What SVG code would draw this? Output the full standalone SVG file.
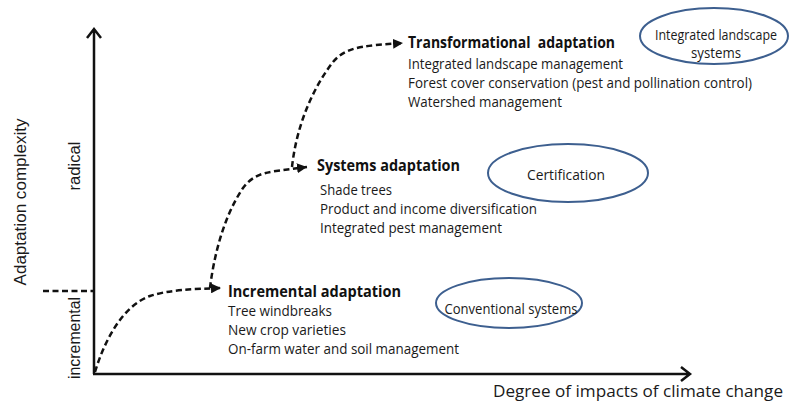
<svg xmlns="http://www.w3.org/2000/svg" width="790" height="402" viewBox="0 0 790 402">
<style>
  .t { font-family: "Open Sans", "Noto Sans", "Liberation Sans", sans-serif; font-size: 14.5px; fill: #1a1a1a; }
  .b { font-family: "Open Sans", "Noto Sans", "Liberation Sans", sans-serif; font-size: 15.5px; font-weight: bold; fill: #111; }
  .ax { font-family: "Liberation Sans", Arial, sans-serif; font-size: 16px; fill: #1a1a1a; }
  .xl { font-family: "Open Sans", "Noto Sans", "Liberation Sans", sans-serif; font-size: 16px; fill: #1a1a1a; }
  .axis { stroke: #111; stroke-width: 2.5; fill: none; }
  .dash { stroke: #111; stroke-width: 2.5; fill: none; stroke-dasharray: 6 3.5; }
  .ell { fill: #fff; stroke: #3d5f8f; stroke-width: 2; }
</style>
<defs>
  <marker id="tri" viewBox="0 0 10 10" refX="10" refY="5" markerWidth="4" markerHeight="4" orient="auto" markerUnits="strokeWidth">
    <path d="M0,0 L10,5 L0,10 Z" fill="#111"/>
  </marker>
</defs>
<rect width="790" height="402" fill="#fff"/>

<g id="axes">
  <path class="axis" d="M94,374 V29 M87,38 L94,29 L101,38"/>
  <path class="axis" d="M93,374 H690 M681,367 L690,374 L681,381"/>
  <path class="dash" d="M43,291 H94"/>
  <text class="ax" transform="translate(26,202) rotate(-90)" text-anchor="middle" textLength="167" lengthAdjust="spacingAndGlyphs">Adaptation complexity</text>
  <text class="ax" transform="translate(80,166) rotate(-90)" text-anchor="middle" textLength="49" lengthAdjust="spacingAndGlyphs">radical</text>
  <text class="ax" transform="translate(80,338) rotate(-90)" text-anchor="middle" textLength="82" lengthAdjust="spacingAndGlyphs">incremental</text>
  <text class="xl" x="493" y="397" textLength="290" lengthAdjust="spacingAndGlyphs">Degree of impacts of climate change</text>
</g>

<g id="connectors">
  <path class="dash" marker-end="url(#tri)" d="M95,372 C104,342 122,306 150,296 C168,290 192,289 221,288"/>
  <path class="dash" marker-end="url(#tri)" d="M210,288 C214,255 224,216 243,188 C252,176 262,173 276,171 L307,167"/>
  <path class="dash" marker-end="url(#tri)" d="M292,167 C296,130 310,92 333,62 C343,50 356,47 376,45 L403,43"/>
</g>

<g id="incremental">
  <text class="b" x="228" y="297" textLength="173" lengthAdjust="spacingAndGlyphs">Incremental adaptation</text>
  <text class="t" x="228" y="316" textLength="104" lengthAdjust="spacingAndGlyphs">Tree windbreaks</text>
  <text class="t" x="228" y="335" textLength="118" lengthAdjust="spacingAndGlyphs">New crop varieties</text>
  <text class="t" x="228" y="354" textLength="231" lengthAdjust="spacingAndGlyphs">On-farm water and soil management</text>
</g>

<g id="systems">
  <text class="b" x="317" y="171" textLength="143" lengthAdjust="spacingAndGlyphs">Systems adaptation</text>
  <text class="t" x="320" y="195" textLength="72" lengthAdjust="spacingAndGlyphs">Shade trees</text>
  <text class="t" x="320" y="214" textLength="217" lengthAdjust="spacingAndGlyphs">Product and income diversification</text>
  <text class="t" x="320" y="233" textLength="182" lengthAdjust="spacingAndGlyphs">Integrated pest management</text>
</g>

<g id="transformational">
  <text class="b" x="408" y="48" textLength="207" lengthAdjust="spacingAndGlyphs" style="white-space:pre">Transformational  adaptation</text>
  <text class="t" x="408" y="69" textLength="215" lengthAdjust="spacingAndGlyphs">Integrated landscape management</text>
  <text class="t" x="408" y="88" textLength="344" lengthAdjust="spacingAndGlyphs">Forest cover conservation (pest and pollination control)</text>
  <text class="t" x="408" y="107" textLength="154" lengthAdjust="spacingAndGlyphs">Watershed management</text>
</g>

<g id="conventional-systems">
  <ellipse class="ell" cx="509" cy="303" rx="73" ry="25"/>
  <text class="t" x="511" y="314" text-anchor="middle" textLength="133" lengthAdjust="spacingAndGlyphs">Conventional systems</text>
</g>

<g id="certification">
  <ellipse class="ell" cx="568" cy="173" rx="80" ry="29"/>
  <text class="t" x="566" y="180" text-anchor="middle" textLength="78" lengthAdjust="spacingAndGlyphs">Certification</text>
</g>

<g id="integrated-landscape-systems">
  <ellipse class="ell" cx="714" cy="36" rx="74" ry="28"/>
  <text class="t" x="716" y="40" text-anchor="middle" textLength="122" lengthAdjust="spacingAndGlyphs">Integrated landscape</text>
  <text class="t" x="716" y="58" text-anchor="middle" textLength="50" lengthAdjust="spacingAndGlyphs">systems</text>
</g>
</svg>
